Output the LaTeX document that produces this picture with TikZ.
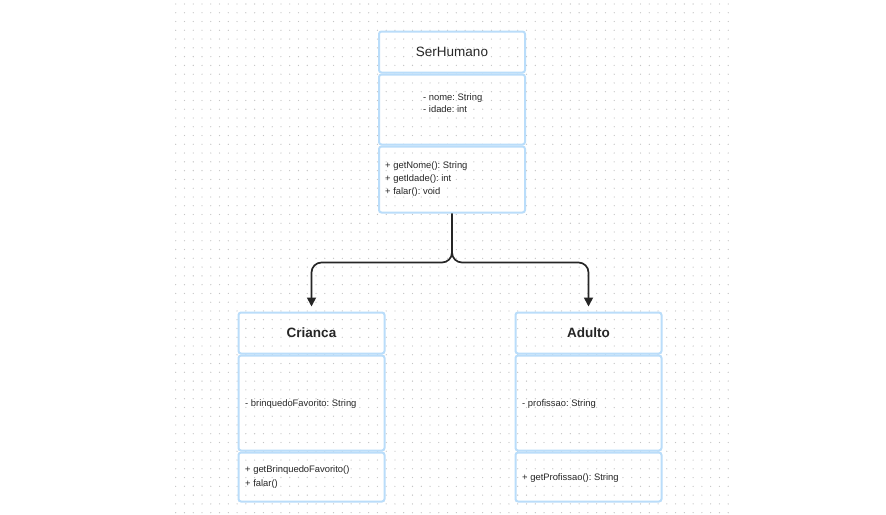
\documentclass[tikz,border=0pt]{standalone}
\usepackage{fontspec}
\setmainfont{Liberation Sans}
\frenchspacing
\usetikzlibrary{positioning}
\usetikzlibrary{arrows.meta}

\definecolor{boxblue}{HTML}{BADDFA}
\definecolor{dotgrey}{HTML}{C4C4C4}
\definecolor{inkdark}{HTML}{262626}

\tikzset{
  part/.style={draw=boxblue, line width=2pt, rounded corners=2.5pt,
    minimum width=146pt, inner sep=0pt},
  head/.style={part, minimum height=41pt, text=inkdark,
    font=\fontsize{13.5}{15}\selectfont},
  member/.style={inner sep=0pt, align=left, text=inkdark,
    font=\fontsize{9.4}{12.5}\selectfont},
  conn/.style={draw=inkdark, line width=1.7pt, rounded corners=10pt,
    -{Triangle[length=9pt,width=9pt]}}
}

\begin{document}
\begin{tikzpicture}[x=1pt,y=-1pt]
\fill[white] (0,0) rectangle (886,514);
\useasboundingbox (0,0) rectangle (886,514);
% dotted canvas
\foreach \i in {0,...,63}
  \foreach \j in {0,...,58}
    \fill[dotgrey] (175.7+\i*8.77,4+\j*8.77) circle (0.65pt);

% SerHumano
\node[head] (serH) at (452,52) {SerHumano};
\node[part, minimum height=70pt] (serA) at (452,109.5) {};
\node[part, minimum height=66pt] (serM) at (452,179.5) {};
\node[member, anchor=west] (serAtxt) at (423,103) {- nome: String\\- idade: int};
\node[member, anchor=west, font=\fontsize{9.4}{13}\selectfont] (serMtxt) at (385,179)
  {+ getNome(): String\\+ getIdade(): int\\+ falar(): void};

% Crianca
\node[head, font=\fontsize{13.5}{15}\selectfont\bfseries] (criH) at (311.5,333) {Crianca};
\node[part, minimum height=95pt] (criA) at (311.5,403) {};
\node[part, minimum height=49pt] (criM) at (311.5,477) {};
\node[member, anchor=west] (criAtxt) at (245,404) {- brinquedoFavorito: String};
\node[member, anchor=west, font=\fontsize{9.4}{14}\selectfont] (criMtxt) at (245,477)
  {+ getBrinquedoFavorito()\\+ falar()};

% Adulto
\node[head, font=\fontsize{13.5}{15}\selectfont\bfseries] (aduH) at (588.5,333) {Adulto};
\node[part, minimum height=95pt] (aduA) at (588.5,403) {};
\node[part, minimum height=49pt] (aduM) at (588.5,477) {};
\node[member, anchor=west] (aduAtxt) at (522,404) {- profissao: String};
\node[member, anchor=west] (aduMtxt) at (522,478) {+ getProfissao(): String};

% inheritance
\coordinate (split) at (452,262.5);
\draw[conn, shorten >=5pt] (serM.south) |- (criH.north |- split) -- (criH.north);
\draw[conn, shorten >=5pt] (serM.south) |- (aduH.north |- split) -- (aduH.north);
\end{tikzpicture}
\end{document}
